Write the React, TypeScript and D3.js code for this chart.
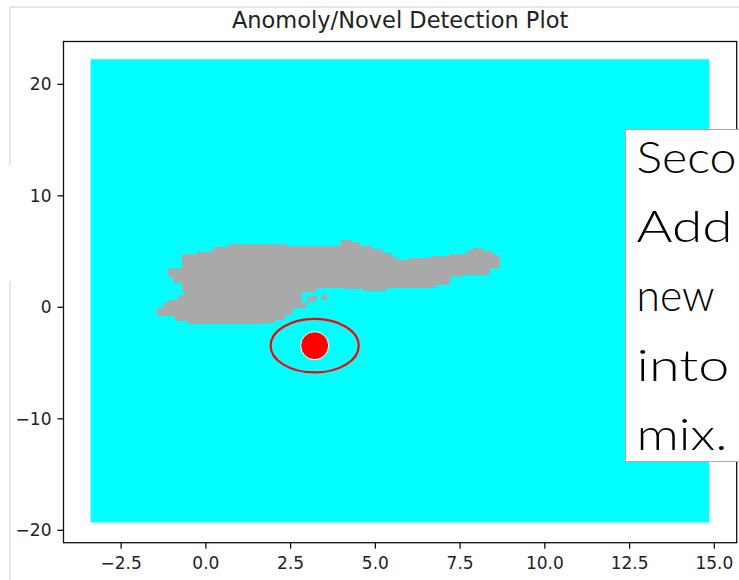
import React from "react";
import * as d3 from "d3";

// grid extent of the decision surface (data units)
const gridX = [-3.4, 14.85];
const gridY = [-19.3, 22.25];

// outline of the "normal" region
const blobX = [
  -0.71, -0.27, -0.27, 0.21, 0.21, 0.65, 0.65, 2.39, 2.39, 3.98, 3.98, 4.31, 4.31, 4.54, 4.54, 4.9, 4.9, 5.22,
  5.22, 5.49, 5.49, 5.66, 5.66, 5.96, 5.96, 6.61, 6.61, 7.2, 7.2, 7.7, 7.7, 7.88, 7.88, 8.17, 8.17, 8.47, 8.47,
  8.67, 8.67, 8.38, 8.38, 7.58, 7.58, 7.2, 7.2, 6.76, 6.76, 5.34, 5.34, 4.63, 4.63, 4.1, 4.1, 3.27, 3.27, 2.83,
  2.83, 2.97, 2.97, 2.57, 2.57, 2.33, 2.33, 2.04, 2.04, 1.74, 1.74, -0.53, -0.53, -0.91, -0.91, -1.45, -1.45,
  -1.27, -1.27, -1.12, -1.12, -0.83, -0.83, -0.62, -0.62, -0.71, -0.71, -0.97, -0.97, -1.12, -1.12, -0.71,
];
const blobY = [
  4.78, 4.78, 4.99, 4.99, 5.44, 5.44, 5.65, 5.65, 5.5, 5.5, 6.04, 6.04, 5.86, 5.86, 5.5, 5.5, 5.23, 5.23, 4.87,
  4.87, 4.51, 4.51, 4.24, 4.24, 4.42, 4.42, 4.6, 4.6, 4.78, 4.78, 5.14, 5.14, 5.32, 5.32, 5.05, 5.05, 4.69,
  4.69, 3.5, 3.5, 2.9, 2.9, 2.74, 2.74, 2.0, 2.0, 1.73, 1.73, 1.46, 1.46, 1.64, 1.64, 1.73, 1.73, 1.37, 1.37,
  0.48, 0.48, -0.06, -0.06, -0.69, -0.69, -1.14, -1.14, -1.43, -1.43, -1.5, -1.5, -1.23, -1.23, -0.78, -0.78,
  -0.06, -0.06, 0.39, 0.39, 0.65, 0.65, 1.1, 1.1, 1.37, 1.37, 2.18, 2.18, 2.74, 2.74, 3.5, 3.5,
];
// isolated grid cells next to the region
const strayX = [3.05, 3.2, 3.5];
const strayY = [0.75, 0.8, 0.9];

// the new observation and its highlight ellipse
const newPointX = 3.21;
const newPointY = -3.44;
const ringW = 2.6;
const ringH = 4.8;

const xTicks = [-2.5, 0, 2.5, 5, 7.5, 10, 12.5, 15];
const yTicks = [-20, -10, 0, 10, 20];

// slide text as it shows (cut by the right edge of the slide)
const noteLines = ["Seco", "Add", "new", "into", "mix."];
const noteWidths = [100, 96, 78, 93, 91];

const W = 739;
const H = 580;
const m = { left: 63.5, right: 736.7, top: 41.5, bottom: 542.7 };

export default function App() {
  const x = d3.scaleLinear().domain([-4.2, 15.66]).range([m.left, m.right]);
  const y = d3.scaleLinear().domain([-21.11, 23.84]).range([m.bottom, m.top]);

  const pts: [number, number][] = blobX.map((v, i) => [v, blobY[i]]);
  const blobPath = d3
    .line<[number, number]>()
    .x((d) => x(d[0]))
    .y((d) => y(d[1]))
    .curve(d3.curveLinearClosed)(pts);

  const fmtX = (v: number) => d3.format(".1f")(v).replace("-", "\u2212");
  const fmtY = (v: number) => d3.format("d")(v).replace("-", "\u2212");
  const tickFont = "DejaVu Sans, sans-serif";

  const cellW = x(0.15) - x(0);
  const cellH = y(0) - y(0.5);

  return (
    <svg
      width={W}
      height={H}
      style={{ position: "absolute", left: 0, top: 0, background: "#fff" }}
    >
      {/* slide frame remnants */}
      <line x1={10} y1={7} x2={W} y2={7} stroke="#cfcfcf" strokeWidth={1} />
      <line x1={10} y1={7} x2={10} y2={165} stroke="#cfcfcf" strokeWidth={1} />
      <line x1={10} y1={281} x2={10} y2={H} stroke="#cfcfcf" strokeWidth={1} />

      <text
        x={(m.left + m.right) / 2}
        y={28}
        textAnchor="middle"
        fontFamily={tickFont}
        fontSize={22.5}
        fill="#222"
      >
        Anomoly/Novel Detection Plot
      </text>

      <rect
        x={x(gridX[0])}
        y={y(gridY[1])}
        width={x(gridX[1]) - x(gridX[0])}
        height={y(gridY[0]) - y(gridY[1])}
        fill="#00ffff"
      />
      <path d={blobPath || ""} fill="#a9a9a9" />
      {strayX.map((v, i) => (
        <rect
          key={i}
          x={x(v) - cellW / 2}
          y={y(strayY[i]) - cellH / 2}
          width={cellW}
          height={cellH}
          fill="#a9a9a9"
        />
      ))}

      <ellipse
        cx={x(newPointX)}
        cy={y(newPointY)}
        rx={x(ringW / 2) - x(0)}
        ry={y(0) - y(ringH / 2)}
        fill="none"
        stroke="#ff0000"
        strokeWidth={2.2}
      />
      <circle cx={x(newPointX)} cy={y(newPointY)} r={14} fill="#ff0000" stroke="#fff" strokeWidth={1} />

      {/* axes frame */}
      <rect
        x={m.left}
        y={m.top}
        width={m.right - m.left}
        height={m.bottom - m.top}
        fill="none"
        stroke="#111"
        strokeWidth={1.3}
      />
      {xTicks.map((t) => (
        <g key={t} transform={`translate(${x(t)},${m.bottom})`}>
          <line y2={6} stroke="#111" strokeWidth={1.3} />
          <text y={26.5} textAnchor="middle" fontFamily={tickFont} fontSize={17} fill="#222">
            {fmtX(t)}
          </text>
        </g>
      ))}
      {yTicks.map((t) => (
        <g key={t} transform={`translate(${m.left},${y(t)})`}>
          <line x2={-6} stroke="#111" strokeWidth={1.3} />
          <text x={-12} dy="0.36em" textAnchor="end" fontFamily={tickFont} fontSize={17} fill="#222">
            {fmtY(t)}
          </text>
        </g>
      ))}

      {/* overlaid slide text box, cut off at the right */}
      <rect x={625.5} y={129.5} width={130} height={332} fill="#fff" stroke="#aaa" strokeWidth={1} />
      {noteLines.map((s, i) => (
        <text
          key={i}
          x={636.5}
          y={173 + i * 69.2}
          fontFamily="Lato, sans-serif"
          fontWeight={300}
          fontSize={44}
          textLength={noteWidths[i]}
          lengthAdjust="spacingAndGlyphs"
          fill="#000"
        >
          {s}
        </text>
      ))}
    </svg>
  );
}
